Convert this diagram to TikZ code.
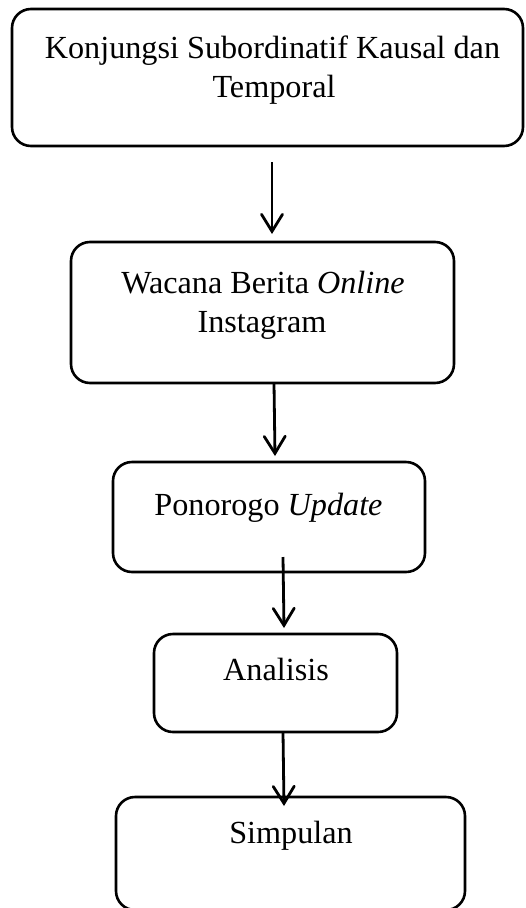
\documentclass[tikz,border=0pt]{standalone}
\usepackage{fontspec}
\setmainfont{Liberation Serif}
\usetikzlibrary{arrows.meta}
\begin{document}
\begin{tikzpicture}[x=1pt,y=-1pt,
  box/.style={draw, rectangle, rounded corners=19pt, line width=2.6pt, inner sep=0pt},
  txt/.style={anchor=base, inner sep=0pt, font=\fontsize{32.2}{39}\selectfont},
  arr/.style={line width=2.8pt, -{Straight Barb[length=17pt,width=21pt,line cap=round]}}]
\useasboundingbox (0,0) rectangle (525,908);
% boxes
\node[box, minimum width=511pt, minimum height=137pt] (b1) at (267.5,77.5) {};
\node[box, minimum width=383pt, minimum height=141pt] (b2) at (262.5,312.5) {};
\node[box, minimum width=312pt, minimum height=110pt] (b3) at (269,517) {};
\node[box, minimum width=243pt, minimum height=98pt] (b4) at (275.5,683) {};
\node[box, minimum width=349pt, minimum height=113pt] (b5) at (290.5,853.5) {};
% texts
\node[txt] (t1a) at (272.5,58) {Konjungsi Subordinatif Kausal dan};
\node[txt] (t1b) at (274,97) {Temporal};
\node[txt] (t2a) at (263,293) {Wacana Berita \textit{Online}};
\node[txt] (t2b) at (262,332) {Instagram};
\node[txt] (t3) at (268.5,515) {Ponorogo \textit{Update}};
\node[txt] (t4) at (276,680) {Analisis};
\node[txt] (t5) at (291,843) {Simpulan};
% arrows
\coordinate (a1s) at (272,162);
\coordinate (a1e) at (272,234);
\coordinate (a2s) at (274,383);
\coordinate (a2e) at (275,456);
\coordinate (a3s) at (283,557);
\coordinate (a3e) at (284,628);
\coordinate (a4s) at (283,732);
\coordinate (a4e) at (284,806);
\draw[arr] (a1s) -- (a1e);
\draw[arr] (a2s) -- (a2e);
\draw[arr] (a3s) -- (a3e);
\draw[arr] (a4s) -- (a4e);
\end{tikzpicture}
\end{document}
